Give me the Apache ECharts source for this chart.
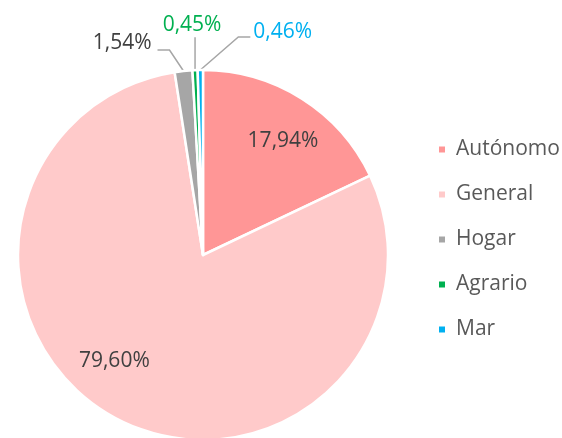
<!DOCTYPE html>
<html>
<head>
<meta charset="utf-8">
<title>Pie</title>
<script src="https://cdn.jsdelivr.net/npm/echarts@6/dist/echarts.min.js"></script>
<style>
  html, body { margin: 0; padding: 0; background: #fff; }
  #chart { width: 562px; height: 438px; }
</style>
</head>
<body>
<div id="chart"></div>
<script>
// datos
var categories = ['Autónomo', 'General', 'Hogar', 'Agrario', 'Mar'];
var shares = [17.94, 79.60, 1.54, 0.45, 0.46];
var palette = ['#FF9696', '#FFCACA', '#A6A6A6', '#00B050', '#00B0F0'];
var labelColors = ['#404040', '#404040', '#404040', '#00B050', '#00B0F0'];

var myChart = echarts.init(document.getElementById('chart'));

function fmt(v) {
    return v.toFixed(2).replace('.', ',') + '%';
}

var pieData = categories.map(function (name, i) {
    return {
        name: name,
        value: shares[i],
        itemStyle: { color: palette[i] },
        label: {
            position: i < 2 ? 'inside' : 'outside',
            color: labelColors[i]
        },
        labelLine: { show: i >= 2 }
    };
});

// offsets of the labels (relative to default / anchor)
var insideShift = { 0: [29, -33], 1: [-44, 22] };
var outsideShift = {
    2: { bend: [-14, -21], end: [-26, -21], text: [-32, -28], align: 'right' },
    3: { bend: [0, -33], end: [0, -33], text: [-3, -45], align: 'center' },
    4: { bend: [38, -33], end: [50, -33], text: [53, -38], align: 'left' }
};

myChart.setOption({
    animation: false,
    legend: {
        orient: 'vertical',
        left: 437,
        top: 139,
        padding: 0,
        icon: 'rect',
        itemWidth: 8,
        itemHeight: 8,
        itemGap: 24,
        textStyle: {
            fontFamily: 'Open Sans',
            fontSize: 21,
            color: '#595959',
            padding: [0, 0, 0, 5]
        },
        data: categories
    },
    series: [
        {
            type: 'pie',
            center: [203, 255],
            radius: [0, 185],
            startAngle: 90,
            clockwise: true,
            avoidLabelOverlap: false,
            itemStyle: { borderColor: '#fff', borderWidth: 2.5 },
            label: {
                fontFamily: 'Open Sans',
                fontSize: 21,
                formatter: function (p) { return fmt(p.value); }
            },
            labelLine: {
                length: 20,
                length2: 10,
                lineStyle: { color: '#A6A6A6', width: 1.5 }
            },
            labelLayout: function (params) {
                var i = params.dataIndex;
                if (insideShift[i]) {
                    return { dx: insideShift[i][0], dy: insideShift[i][1] };
                }
                var s = outsideShift[i];
                var pts = params.labelLinePoints;
                if (!s || !pts) return {};
                var a = pts[0];
                return {
                    x: a[0] + s.text[0],
                    y: a[1] + s.text[1],
                    align: s.align,
                    verticalAlign: 'middle',
                    labelLinePoints: [
                        [a[0], a[1]],
                        [a[0] + s.bend[0], a[1] + s.bend[1]],
                        [a[0] + s.end[0], a[1] + s.end[1]]
                    ]
                };
            },
            data: pieData
        }
    ]
});
</script>
</body>
</html>
